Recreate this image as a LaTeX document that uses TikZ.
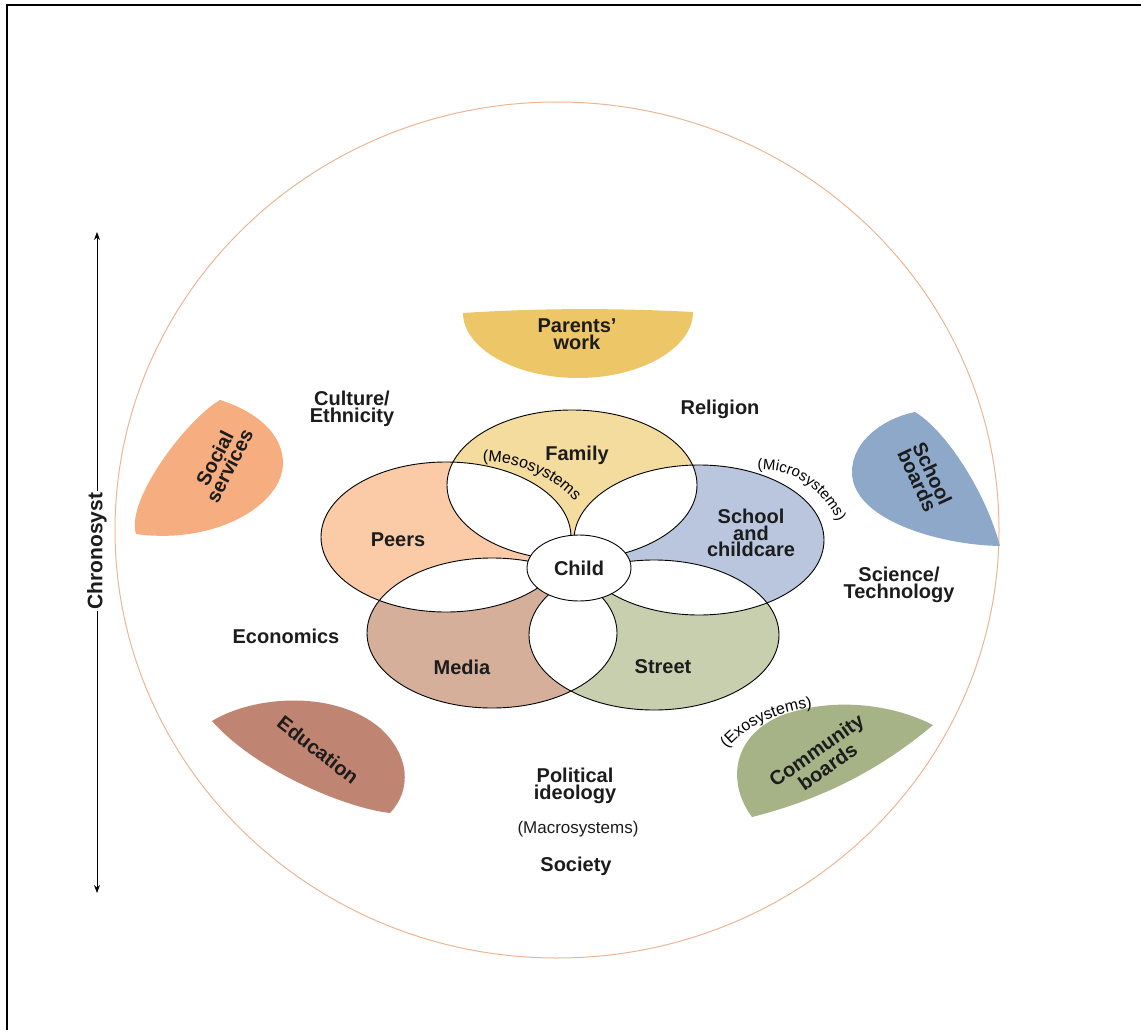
\documentclass[tikz,border=0pt]{standalone}
\usepackage{fontspec}
\setmainfont{Liberation Sans}
\usepackage{tikz}
\usetikzlibrary{arrows.meta,decorations.text,shapes.geometric}
\definecolor{inkx}{HTML}{1C1C1C}
\definecolor{ringx}{HTML}{E9B594}
\definecolor{workx}{HTML}{ECC667}
\definecolor{socx}{HTML}{F6AE80}
\definecolor{boardx}{HTML}{8DA8C9}
\definecolor{edux}{HTML}{C08472}
\definecolor{commx}{HTML}{A5B386}
\definecolor{famx}{HTML}{F3DC9D}
\definecolor{peerx}{HTML}{FACBA6}
\definecolor{schx}{HTML}{B9C6DE}
\definecolor{medx}{HTML}{D6AF9B}
\definecolor{strx}{HTML}{C7CFAF}
\tikzset{
  ring/.style={draw=ringx,line width=1pt},
  petal/.style={draw=black,line width=0.9pt},
  lbl/.style={font=\fontsize{20}{16.5}\selectfont\bfseries,text=inkx,align=center,inner sep=1pt},
  sub/.style={font=\fontsize{17}{17}\selectfont,text=inkx,inner sep=1pt},
  ar/.style={-{Stealth[length=8pt,width=6pt]},line width=1pt},
  arctext/.style={decorate,decoration={text along path,text align=center,text={#1}}}
}

\begin{document}
\begin{tikzpicture}[x=1pt,y=-1pt]
\useasboundingbox (0,0) rectangle (1141,1030);
\draw[line width=2pt] (7,1030) -- (7,5) -- (1141,5);
\coordinate (cring) at (557,530);
\draw[ring] (cring) ellipse [x radius=442pt, y radius=428pt];

% outer leaves
\fill[workx] (463,313) .. controls (540,308) and (616,308) .. (693,312)
  .. controls (693,348) and (641,378) .. (578,378)
  .. controls (515,378) and (463,348) .. (463,313) -- cycle;
\fill[socx] (220,400) .. controls (258,412) and (283,435) .. (283,463)
  .. controls (283,505) and (215,545) .. (136,534)
  .. controls (125,500) and (188,418) .. (220,400) -- cycle;
\fill[boardx] (915,412) .. controls (945,430) and (985,490) .. (1000,546)
  .. controls (940,545) and (852,520) .. (852,472)
  .. controls (852,440) and (885,418) .. (915,412) -- cycle;
\fill[edux] (212,721) .. controls (255,695) and (335,690) .. (380,728)
  .. controls (410,755) and (412,790) .. (390,813)
  .. controls (345,808) and (255,770) .. (212,721) -- cycle;
\fill[commx] (752,817) .. controls (728,785) and (730,738) .. (780,716)
  .. controls (830,697) and (890,703) .. (933,725)
  .. controls (880,770) and (820,800) .. (752,817) -- cycle;

% petals
\coordinate (cfam) at (572,485);
\coordinate (cpeer) at (446,537);
\coordinate (csch) at (699,540);
\coordinate (cmed) at (492,633);
\coordinate (cstr) at (654,635);
\fill[famx] (cfam) ellipse [x radius=125pt, y radius=75pt];
\fill[peerx] (cpeer) ellipse [x radius=125pt, y radius=75pt];
\fill[schx] (csch) ellipse [x radius=125pt, y radius=75pt];
\fill[medx] (cmed) ellipse [x radius=125pt, y radius=75pt];
\fill[strx] (cstr) ellipse [x radius=125pt, y radius=75pt];
\foreach \a/\b in {cfam/cpeer,cfam/csch,cpeer/cmed,csch/cstr,cmed/cstr}{
  \begin{scope}
    \clip (\a) ellipse [x radius=125pt, y radius=75pt];
    \fill[white] (\b) ellipse [x radius=125pt, y radius=75pt];
  \end{scope}
}
\foreach \c in {cfam,cpeer,csch,cmed,cstr}
  \draw[petal] (\c) ellipse [x radius=125pt, y radius=75pt];
\node[petal,ellipse,fill=white,minimum width=104pt,minimum height=66pt,lbl] (child) at (579,568) {Child};

% labels
\node[lbl] (lwork) at (577,334) {Parents'\\work};
\node[lbl] (lcult) at (352,409) {Culture/\\Ethnicity};
\node[lbl] (lrel) at (720,409) {Religion};
\node[lbl] (lfam) at (577,455) {Family};
\node[lbl] (lpeer) at (398,540) {Peers};
\node[lbl] (lsch) at (751,533) {School\\and\\childcare};
\node[lbl] (lsci) at (899,585) {Science/\\Technology};
\node[lbl] (lecon) at (286,636) {Economics};
\node[lbl] (lmed) at (462,667) {Media};
\node[lbl] (lstr) at (663,667) {Street};
\node[lbl] (lpol) at (575,786) {Political\\ideology};
\node[sub] (lmacro) at (578,829) {(Macrosystems)};
\node[lbl] (lsoc) at (576,866) {Society};
\node[lbl,rotate=63] (lserv) at (222,462) {Social\\services};
\node[lbl,rotate=-65] (lboard) at (925,477) {School\\boards};
\node[lbl,rotate=-38] (ledu) at (318,750) {Education};
\node[lbl,rotate=35] (lcomm) at (822,758) {Community\\boards};

% curved system names
\path[arctext={|\fontsize{16}{16}\selectfont|(Mesosystems}] (478,462) .. controls (515,460) and (553,475) .. (578,505);
\path[arctext={|\fontsize{15}{15}\selectfont|(Microsystems)}] (753,470) .. controls (792,466) and (822,488) .. (840,526);
\path[arctext={|\fontsize{16}{16}\selectfont|(Exosystems)}] (722,755) .. controls (745,725) and (780,710) .. (820,707);

% chronosystem
\node[lbl,rotate=90,font=\fontsize{21}{21}\selectfont\bfseries] (lchron) at (97,551) {Chronosyst};
\coordinate (ctop) at (97,232);
\coordinate (cbot) at (97,893);
\draw[ar] (lchron) -- (ctop);
\draw[ar] (lchron) -- (cbot);
\end{tikzpicture}
\end{document}
